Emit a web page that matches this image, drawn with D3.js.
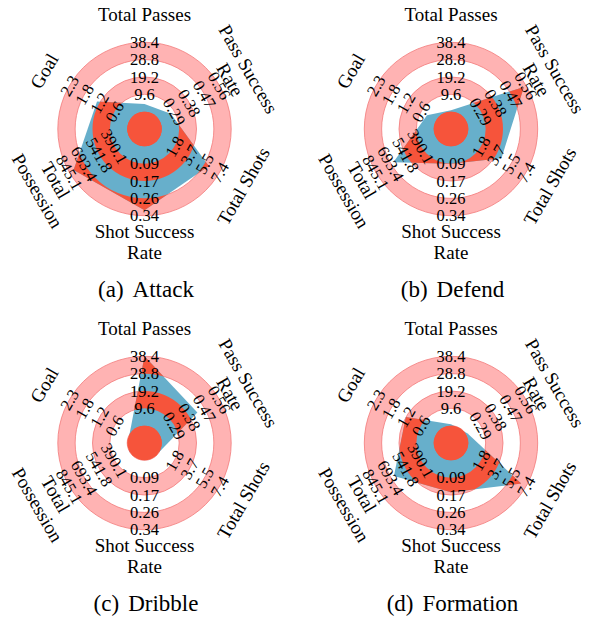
<!DOCTYPE html>
<html><head><meta charset="utf-8">
<script src="https://cdn.jsdelivr.net/npm/d3@7"></script>
<style>
body{margin:0;background:#fff}
svg{display:block}
text{font-family:"Liberation Serif","Times New Roman",serif;fill:#000}
</style>
</head><body>
<svg id="chart" width="589" height="618"></svg>
<script>
// ---- data ----
const axisNames = [["Total Passes"],["Pass Success","Rate"],["Total Shots"],["Shot Success","Rate"],["Total","Possession"],["Goal"]];
const axisMin = [0, 0.20, 0, 0, 238.4, 0];
const axisMax = [38.4, 0.56, 7.4, 0.34, 845.1, 2.33];
const tpTicks   = ["9.6","19.2","28.8","38.4"];
const psrTicks  = ["0.29","0.38","0.47","0.56"];
const tsTicks   = ["1.8","3.7","5.5","7.4"];
const ssrTicks  = ["0.09","0.17","0.26","0.34"];
const possTicks = ["390.1","541.8","693.4","845.1"];
const goalTicks = ["0.6","1.2","1.8","2.3"];
const tickLabels = [tpTicks, psrTicks, tsTicks, ssrTicks, possTicks, goalTicks];
const panelTags = ["(a)","(b)","(c)","(d)"];
const panelNames = ["Attack","Defend","Dribble","Formation"];
const attack    = [4.2, 0.268, 6.07, 0.313, 802.6, 1.26];
const defend    = [0.8, 0.547, 4.37, 0.085, 669.0, 0.35];
const dribble   = [38.4, 0.427, 0, 0, 238.4, 0];
const formation = [0.8, 0.21, 6.8, 0.156, 663.0, 1.17];
const series = [attack, defend, dribble, formation];

// ---- layout ----
const svg = d3.select("#chart");
const centers = [[144.5,129],[451,129],[144.5,443],[451,443]];
const r0 = 17.3, R = 86.7;
const labelR = [115, 109.5, 114, 113, 113, 116];
const C_PINK = "#ffb3b3", C_EDGE = "#f27a7a", C_BLUE = "#67afcb", C_RED = "#f6543b";
const levelScale = d3.scaleLinear().domain([0,4]).range([r0,R]);
const rScales = axisMin.map((m,i)=>d3.scaleLinear().domain([m, axisMax[i]]).range([r0,R]));
const angleDeg = axisNames.map((_,i)=>i*60);
const rot = a => ((a+90)%180)-90;
const pt = (aDeg, r) => [r*Math.sin(aDeg*Math.PI/180), -r*Math.cos(aDeg*Math.PI/180)];

const fullArc = d3.arc().startAngle(0).endAngle(2*Math.PI);
const bands = [[1,2],[3,4]];

series.forEach((vals, p) => {
  const [cx, cy] = centers[p];
  const g = svg.append("g").attr("transform", `translate(${cx},${cy})`);
  const clipId = "clip" + p;
  const clip = svg.append("defs").append("clipPath").attr("id", clipId);
  bands.forEach(([a,b]) => clip.append("path").attr("d", fullArc({innerRadius: levelScale(a), outerRadius: levelScale(b)})));
  clip.append("circle").attr("r", r0);

  // bands
  bands.forEach(([a,b]) => g.append("path")
    .attr("d", fullArc({innerRadius: levelScale(a), outerRadius: levelScale(b)}))
    .attr("fill", C_PINK));
  // grid circles
  [0,1,2,3,4].forEach(k => g.append("circle").attr("r", levelScale(k))
    .attr("fill","none").attr("stroke", C_EDGE).attr("stroke-width", 0.8));

  const line = d3.lineRadial()
    .angle((d,i)=>angleDeg[i]*Math.PI/180)
    .radius((d,i)=>rScales[i](d))
    .curve(d3.curveLinearClosed);
  g.append("path").attr("d", line(vals)).attr("fill", C_BLUE);
  g.append("path").attr("d", line(vals)).attr("fill", C_RED).attr("clip-path", `url(#${clipId})`);
  g.append("circle").attr("r", r0).attr("fill", C_RED);

  // tick labels
  tickLabels.forEach((labs, i) => {
    labs.forEach((t, k) => {
      const [x,y] = pt(angleDeg[i], levelScale(k+1));
      g.append("text").attr("transform", `translate(${x},${y}) rotate(${rot(angleDeg[i])})`)
        .attr("text-anchor","middle").attr("dy","0.35em")
        .style("font-size","16.5px").text(t);
    });
  });
  // axis labels
  axisNames.forEach((lines, i) => {
    const [x,y] = pt(angleDeg[i], labelR[i]);
    const t = g.append("text").attr("transform", `translate(${x},${y}) rotate(${rot(angleDeg[i])})`)
      .attr("text-anchor","middle").style("font-size","19px");
    lines.forEach((s, j) => t.append("tspan").attr("x",0)
      .attr("y", (j - (lines.length-1)/2)*21).attr("dy","0.35em").text(s));
  });
  // caption
  const cap = svg.append("text").attr("x", cx+1.5).attr("y", cy+168)
    .attr("text-anchor","middle").style("font-size","23px");
  cap.append("tspan").text(panelTags[p]);
  cap.append("tspan").attr("dx", 9).text(panelNames[p]);
});
</script>
</body></html>
